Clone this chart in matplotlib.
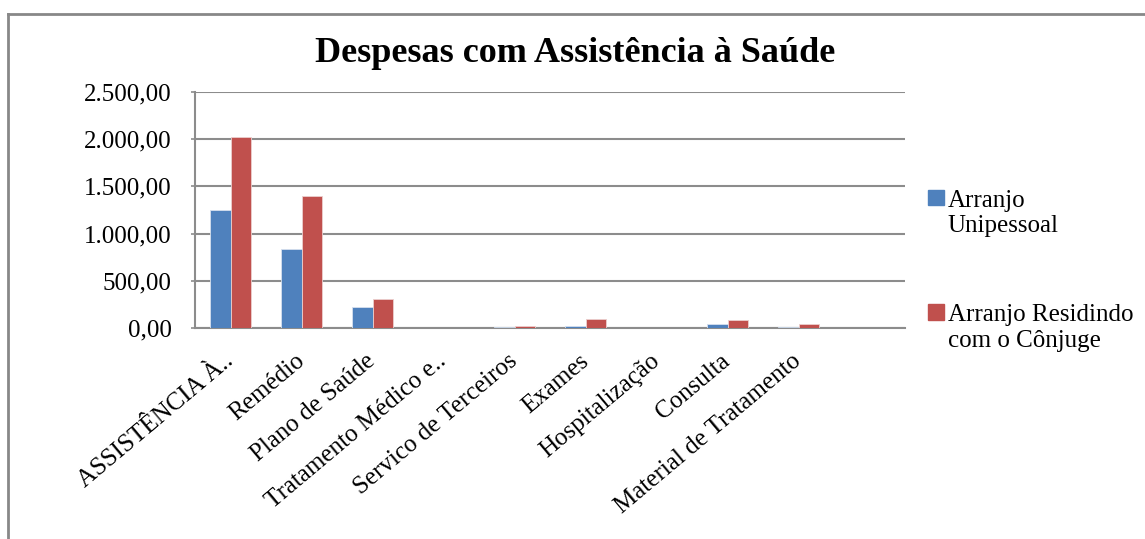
import numpy as np
import matplotlib.pyplot as plt
from matplotlib.patches import Patch
from matplotlib.lines import Line2D

plt.rcParams['font.family'] = ['Liberation Serif', 'DejaVu Serif']

# values
categories = ['ASSISTÊNCIA À..', 'Remédio', 'Plano de Saúde', 'Tratamento Médico e..',
              'Servico de Terceiros', 'Exames', 'Hospitalização', 'Consulta',
              'Material de Tratamento']
unipessoal = [1250, 840, 226, 0, 10, 20, 0, 40, 15]
conjuge = [2020, 1395, 310, 0, 20, 95, 0, 88, 40]
series_names = ['Arranjo\nUnipessoal', 'Arranjo Residindo\ncom o Cônjuge']
yticks = [0, 500, 1000, 1500, 2000, 2500]
ytick_labels = ['0,00', '500,00', '1.000,00', '1.500,00', '2.000,00', '2.500,00']

blue = '#4F81BD'
red = '#C0504D'
grid_gray = '#8C8C8C'

fig = plt.figure(figsize=(11.45, 5.39), dpi=100)
ax = fig.add_axes([195 / 1145, 1 - 328 / 539, 710 / 1145, 236 / 539])

x = np.arange(len(categories))
w = 0.29
ax.bar(x - w / 2, unipessoal, w, color=blue, edgecolor='#D6E0EE', linewidth=0.6, zorder=3)
ax.bar(x + w / 2, conjuge, w, color=red, edgecolor='#EBCFCE', linewidth=0.6, zorder=3)

ax.set_xlim(-0.5, 9.5)
ax.set_ylim(0, 2500)
ax.set_yticks(yticks)
ax.set_yticklabels(ytick_labels, fontsize=18)
ax.yaxis.grid(True, color=grid_gray, linewidth=1.5, zorder=0)
ax.tick_params(axis='y', length=3, width=1.2, color=grid_gray, pad=14)

ax.set_xticks(x)
ax.set_xticklabels(categories, fontsize=18, rotation=40, ha='right',
                   va='center', rotation_mode='anchor')
ax.tick_params(axis='x', length=0, pad=22)

for side in ['top', 'right']:
    ax.spines[side].set_visible(False)
for side in ['left', 'bottom']:
    ax.spines[side].set_color(grid_gray)
    ax.spines[side].set_linewidth(1.5)

fig.text(0.502, 1 - 54 / 539, 'Despesas com Assistência à Saúde', fontsize=26,
         fontweight='bold', ha='center', va='center')

handles = [Patch(color=blue), Patch(color=red)]
leg = fig.legend(handles, series_names, loc='upper left',
                 bbox_to_anchor=(915 / 1145, 1 - 177 / 539), frameon=False,
                 fontsize=18, borderpad=0, handlelength=0.65, handleheight=0.6,
                 handletextpad=0.15, labelspacing=2.7)
# put the colour square next to the first line of each label
for column in leg._legend_handle_box.get_children():
    for row in column.get_children():
        row.align = 'top'

# outer chart frame (clipped at right and bottom in the reference)
fig.add_artist(Line2D([8 / 1145, 1], [1 - 14 / 539, 1 - 14 / 539], color='#888888', lw=2))
fig.add_artist(Line2D([8 / 1145, 8 / 1145], [0, 1 - 14 / 539], color='#888888', lw=2))

fig.savefig('out.png', dpi=100, facecolor='white')
